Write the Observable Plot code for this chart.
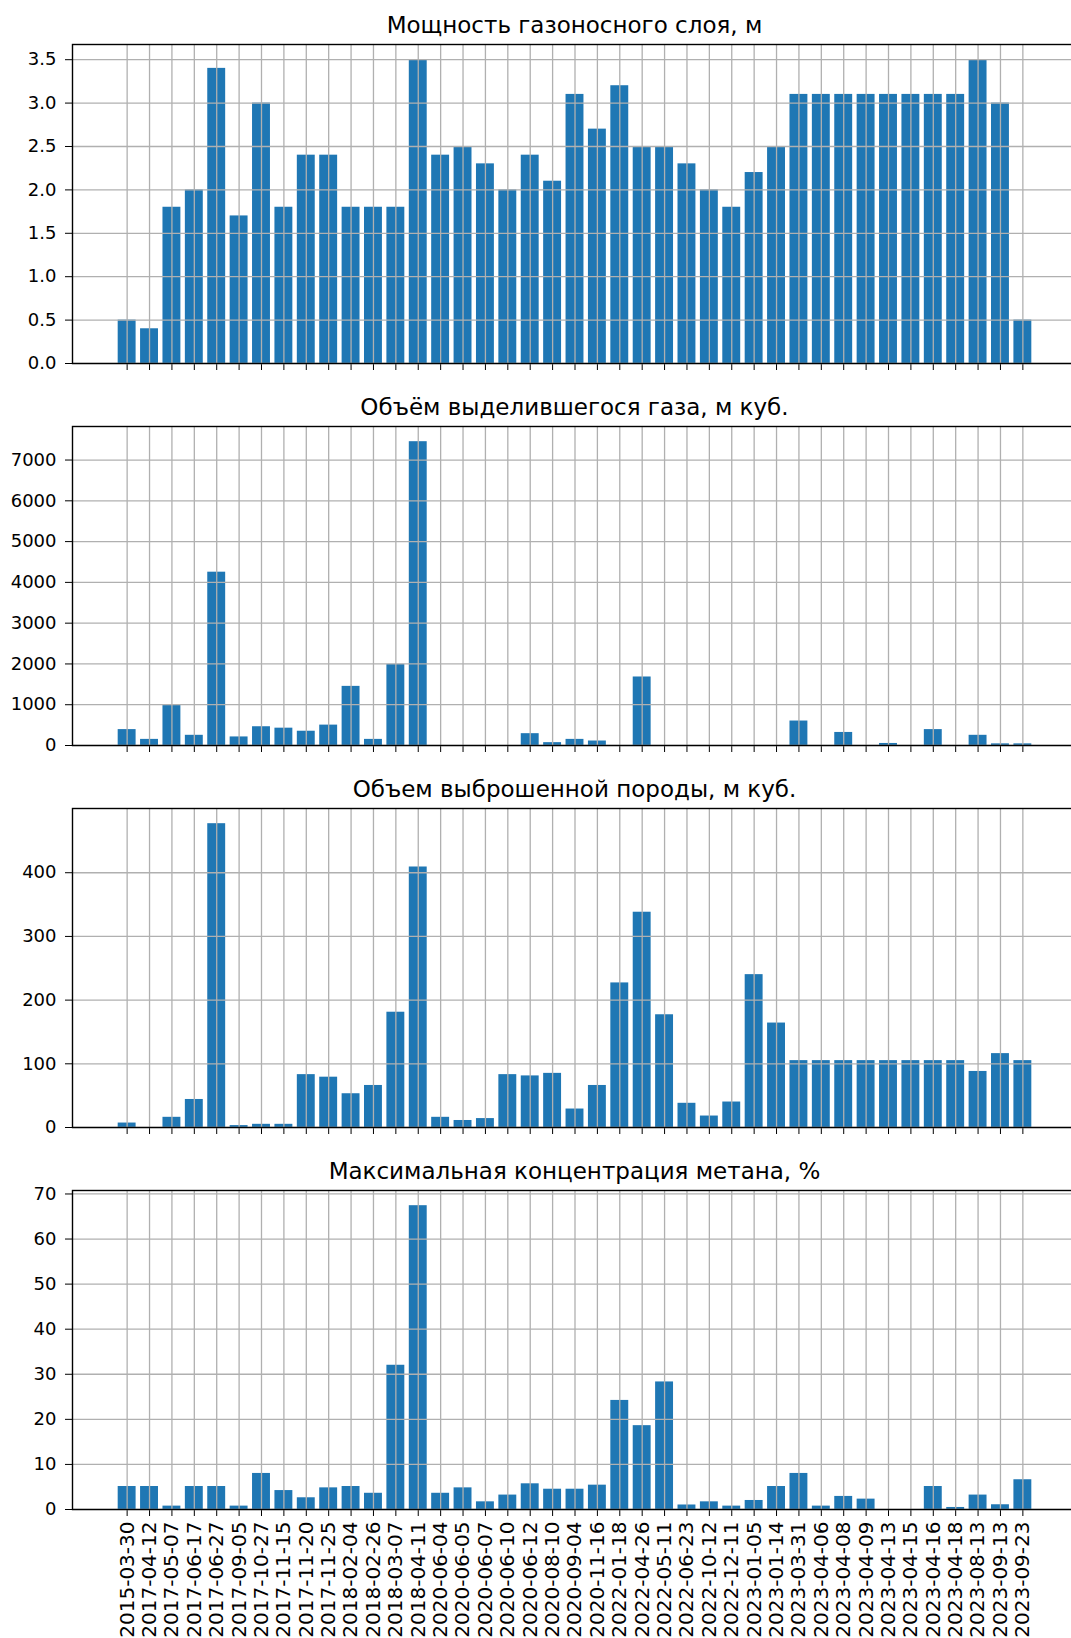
<!DOCTYPE html>
<html>
<head>
<meta charset="utf-8">
<script src="https://cdn.jsdelivr.net/npm/d3@7"></script>
<script src="https://cdn.jsdelivr.net/npm/@observablehq/plot@0.6"></script>
<style>
  html, body { margin: 0; padding: 0; background: #fff; overflow: hidden; }
  #chart { position: relative; width: 1071px; height: 1638px; overflow: hidden; font-family: "DejaVu Sans", sans-serif; }
  .panel { position: absolute; left: 0; }
  .title { position: absolute; left: 72px; width: 1005px; text-align: center; font-size: 23px; line-height: 23px; color: #000; white-space: nowrap; }
</style>
</head>
<body>
<div id="chart"></div>
<script>
// Event dates (categorical x axis shared by all panels)
const dates = ["2015-03-30","2017-04-12","2017-05-07","2017-06-17","2017-06-27","2017-09-05","2017-10-27","2017-11-15","2017-11-20","2017-11-25","2018-02-04","2018-02-26","2018-03-07","2018-04-11","2020-06-04","2020-06-05","2020-06-07","2020-06-10","2020-06-12","2020-08-10","2020-09-04","2020-11-16","2022-01-18","2022-04-26","2022-05-11","2022-06-23","2022-10-12","2022-12-11","2023-01-05","2023-01-14","2023-03-31","2023-04-06","2023-04-08","2023-04-09","2023-04-13","2023-04-15","2023-04-16","2023-04-18","2023-08-13","2023-09-13","2023-09-23"];

// Gas-bearing layer thickness, m
const thickness = [0.5,0.4,1.8,2.0,3.4,1.7,3.0,1.8,2.4,2.4,1.8,1.8,1.8,3.5,2.4,2.5,2.3,2.0,2.4,2.1,3.1,2.7,3.2,2.5,2.5,2.3,2.0,1.8,2.2,2.5,3.1,3.1,3.1,3.1,3.1,3.1,3.1,3.1,3.5,3.0,0.5];

// Released gas volume, m³
const gasVolume = [390,150,980,250,4250,210,460,425,350,500,1450,150,1990,7450,0,0,0,0,290,70,150,110,0,1680,0,0,0,0,0,0,600,0,320,0,50,0,390,0,250,40,40];

// Ejected rock volume, m³
const rockVolume = [7,0,16,44,477,3,5,5,83,79,53,66,181,409,16,11,14,83,81,85,29,66,227,338,177,38,18,40,240,164,105,105,105,105,105,105,105,105,88,116,105];

// Maximum methane concentration, %
const methane = [5.1,5.1,0.75,5.1,5.1,0.75,8.0,4.2,2.6,4.8,5.1,3.6,32.0,67.4,3.6,4.8,1.7,3.2,5.7,4.5,4.5,5.4,24.2,18.6,28.3,1.0,1.7,0.75,2.0,5.1,8.0,0.75,2.9,2.3,0,0,5.1,0.45,3.2,1.05,6.6];

// Panel titles and y tick values
const titles = [
  "Мощность газоносного слоя, м",
  "Объём выделившегося газа, м куб.",
  "Объем выброшенной породы, м куб.",
  "Максимальная концентрация метана, %"
];
const thicknessTicks = [0,0.5,1.0,1.5,2.0,2.5,3.0,3.5];
const gasTicks = [0,1000,2000,3000,4000,5000,6000,7000];
const rockTicks = [0,100,200,300,400];
const methaneTicks = [0,10,20,30,40,50,60,70];

const panels = [
  {values: thickness, ticks: thicknessTicks, format: d3.format(".1f")},
  {values: gasVolume, ticks: gasTicks, format: d3.format("d")},
  {values: rockVolume, ticks: rockTicks, format: d3.format("d")},
  {values: methane, ticks: methaneTicks, format: d3.format("d")}
];

const chart = document.getElementById("chart");
const axesTops = [44, 426, 808, 1190];
const axesHeight = 319;
const marginTop = 44;
const gridColor = "#b0b0b0";
const barColor = "#1f77b4";

panels.forEach((p, k) => {
  const last = k === panels.length - 1;
  const data = dates.map((d, i) => ({date: d, value: p.values[i]}));
  const marginBottom = last ? 200 : 19;
  const svg = Plot.plot({
    width: 1080,
    height: marginTop + axesHeight + marginBottom,
    marginLeft: 72,
    marginRight: 3,
    marginTop,
    marginBottom,
    style: {fontFamily: "DejaVu Sans", fontSize: "18px", color: "#000", background: "transparent", maxWidth: "none", overflow: "visible"},
    x: {
      type: "band",
      domain: dates,
      round: false,
      paddingInner: 0.2,
      paddingOuter: 2.04,
      label: null,
      tickSize: 7,
      tickPadding: 5,
      tickRotate: last ? -90 : 0,
      tickFormat: last ? (d => d) : (() => "")
    },
    y: {
      domain: [0, d3.max(p.values) * 1.05],
      ticks: p.ticks,
      tickFormat: p.format,
      tickSize: 7,
      tickPadding: 9,
      label: null
    },
    marks: [
      Plot.barY(data, {x: "date", y: "value", fill: barColor}),
      Plot.ruleX(dates, {stroke: gridColor, strokeWidth: 1.3}),
      Plot.ruleY(p.ticks, {stroke: gridColor, strokeWidth: 1.3}),
      Plot.frame({stroke: "#000", strokeWidth: 1.4})
    ]
  });
  // date labels under the bottom panel use a slightly larger type
  if (last) {
    svg.querySelectorAll('g[aria-label^="x-axis"]').forEach(g => { g.style.fontSize = "20px"; });
  }
  const wrap = document.createElement("div");
  wrap.className = "panel";
  wrap.style.top = (axesTops[k] - marginTop) + "px";
  wrap.appendChild(svg);
  chart.appendChild(wrap);

  const t = document.createElement("div");
  t.className = "title";
  t.style.top = (axesTops[k] - 30) + "px";
  t.textContent = titles[k];
  chart.appendChild(t);
});
</script>
</body>
</html>
